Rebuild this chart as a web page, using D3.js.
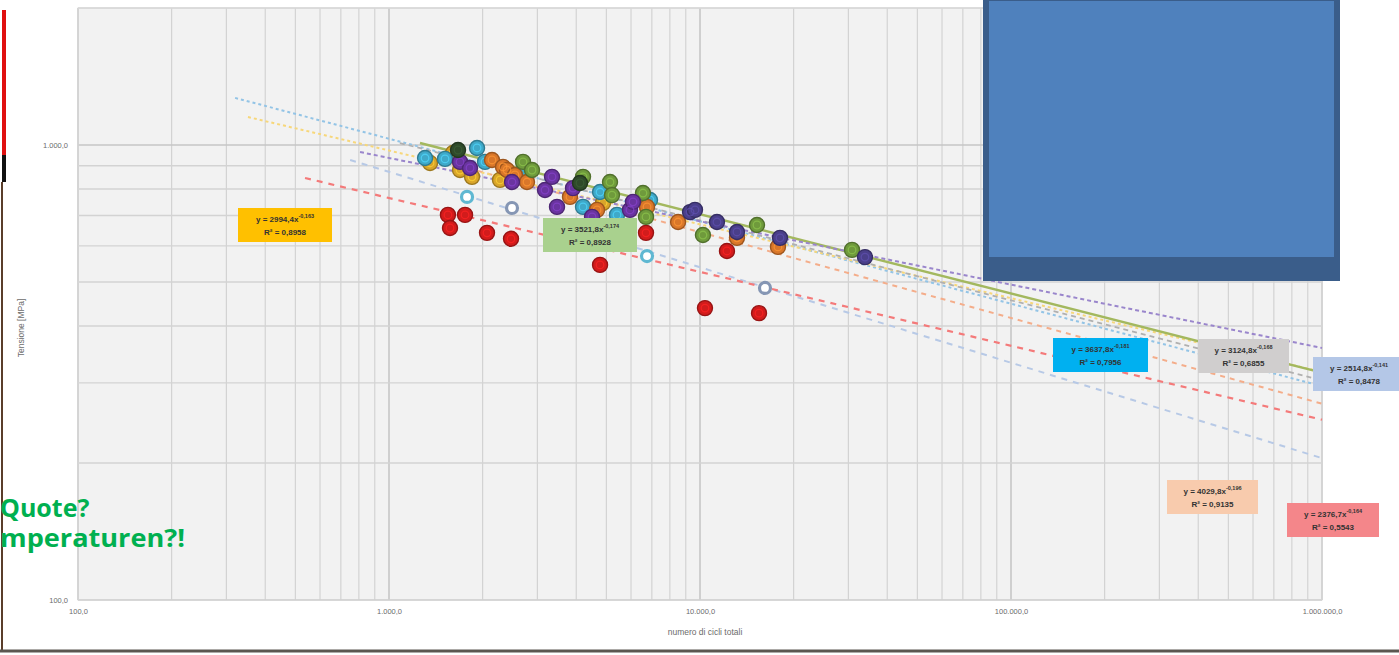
<!DOCTYPE html>
<html>
<head>
<meta charset="utf-8">
<script src="https://cdn.jsdelivr.net/npm/d3@7"></script>
<style>
  body { margin: 0; background: #fff; }
  svg { display: block; }
</style>
</head>
<body>
<svg width="1399" height="655"></svg>
<script>
// tick labels (log axes)
const xTicks = [100, 1000, 10000, 100000, 1000000];
const yTicks = [100, 1000];

// scatter series: [cycles, stress MPa]
const cyanPts = [[1306,936],[1514,932],[1919,985],[2036,918],[2677,872],[4206,731],[4771,788],[5409,702],[6906,757]];
const goldPts = [[1355,913],[1606,960],[1692,881],[1849,851],[2275,838],[4877,746]];
const darkGreenPts = [[1667,975],[4113,825]];
const purplePts = [[1692,918],[1822,890],[2486,829],[3174,796],[3343,851],[3469,731],[3905,804],[4496,695],[5955,720],[6089,750]];
const orangePts = [[2144,927],[2326,895],[2396,881],[2541,859],[2778,829],[3819,769],[4666,720],[6755,731],[8501,677],[13150,625],[17810,597]];
const greenPts = [[2697,918],[2883,881],[4206,851],[5136,829],[5212,776],[6556,784],[6705,695],[10220,634],[15250,667],[30820,588]];
const slatePts = [[9288,712],[9635,720],[11340,677],[13150,644],[18080,625],[33920,567]];
const redPts = [[1547,702],[1756,702],[1571,657],[2066,641],[2468,622],[4771,545],[6705,641],[10375,438],[12210,585],[15480,427]];
const ringCyanPts = [[1782,769],[6755,570]];
const ringGrayPts = [[2486,727],[16180,485]];

// power trendlines, start and end points
const trendCyan = [[320,1269],[1000000,295]];
const trendGold = [[352,1152],[1000000,317]];
const trendRed = [[537,846],[1000000,249]];
const trendLight = [[750,927],[1000000,205]];
const trendPeach = [[1258,951],[1000000,270]];
const trendPurple = [[807,965],[1000000,358]];
const trendOlive = [[1258,1010],[1000000,316]];
const trendGray = [[1084,1010],[1000000,304]];

// equation labels
const eqText = ['y = 2994,4x', 'y = 3521,8x', 'y = 3637,8x', 'y = 3124,8x', 'y = 2514,8x', 'y = 4029,8x', 'y = 2376,7x'];
const eqExp = ['-0,163', '-0,174', '-0,181', '-0,168', '-0,141', '-0,196', '-0,164'];
const eqR2 = ['R² = 0,8958', 'R² = 0,8928', 'R² = 0,7956', 'R² = 0,6855', 'R² = 0,8478', 'R² = 0,9135', 'R² = 0,5543'];

const svg = d3.select('svg');
const margin = { top: 8, right: 77, bottom: 55, left: 78 };
const width = +svg.attr('width');
const height = +svg.attr('height');

const x = d3.scaleLog().domain([100, 1000000]).range([margin.left, width - margin.right]);
const y = d3.scaleLog().domain([100, 2000]).range([height - margin.bottom, margin.top]);

const it = d3.formatLocale({ decimal: ',', thousands: '.', grouping: [3], currency: ['€', ''] });
const fmt = it.format(',.1f');

// plot background
svg.append('rect')
  .attr('x', x(100)).attr('y', y(2000))
  .attr('width', x(1000000) - x(100)).attr('height', y(100) - y(2000))
  .attr('fill', '#f2f2f2');

// gridlines
const isMajor = v => Math.abs(Math.log10(v) - Math.round(Math.log10(v))) < 1e-6;
svg.append('g').selectAll('line').data(x.ticks())
  .enter().append('line')
  .attr('x1', d => x(d)).attr('x2', d => x(d))
  .attr('y1', y(2000)).attr('y2', y(100))
  .attr('stroke', d => isMajor(d) ? '#c6c6c6' : '#d3d3d3')
  .attr('stroke-width', d => isMajor(d) ? 1.6 : 1.2);
svg.append('g').selectAll('line').data(y.ticks())
  .enter().append('line')
  .attr('x1', x(100)).attr('x2', x(1000000))
  .attr('y1', d => y(d)).attr('y2', d => y(d))
  .attr('stroke', d => isMajor(d) ? '#c6c6c6' : '#d3d3d3')
  .attr('stroke-width', d => isMajor(d) ? 1.6 : 1.4);
svg.append('rect')
  .attr('x', x(100)).attr('y', y(2000))
  .attr('width', x(1000000) - x(100)).attr('height', y(100) - y(2000))
  .attr('fill', 'none').attr('stroke', '#d9d9d9');

// axes
const xAxis = d3.axisBottom(x).tickValues(xTicks).tickFormat(fmt).tickSize(0).tickPadding(9);
const yAxis = d3.axisLeft(y).tickValues(yTicks).tickFormat(fmt).tickSize(0).tickPadding(10);
const gx = svg.append('g').attr('transform', `translate(0,${y(100)})`).call(xAxis);
const gy = svg.append('g').attr('transform', `translate(${x(100)},0)`).call(yAxis);
[gx, gy].forEach(g => {
  g.select('.domain').remove();
  g.selectAll('text').attr('fill', '#6b6b6b').style('font', '7.5px "Liberation Sans", sans-serif');
});

svg.append('text')
  .attr('x', 705).attr('y', 635).attr('text-anchor', 'middle')
  .attr('fill', '#6b6b6b').style('font', '8.5px "Liberation Sans", sans-serif')
  .text('numero di cicli totali');
svg.append('text')
  .attr('transform', 'translate(24,328) rotate(-90)').attr('text-anchor', 'middle')
  .attr('fill', '#6b6b6b').style('font', '8.5px "Liberation Sans", sans-serif')
  .text('Tensione [MPa]');

// trendlines
const trends = [
  { pts: trendLight, color: '#b7c9e6', dash: '6,6', w: 2 },
  { pts: trendRed, color: '#f47a7a', dash: '6,6', w: 2.2 },
  { pts: trendPeach, color: '#f4ad8a', dash: '5,5', w: 2 },
  { pts: trendCyan, color: '#93c4e6', dash: '3,3', w: 2 },
  { pts: trendGold, color: '#f7d77a', dash: '3,3', w: 2 },
  { pts: trendGray, color: '#b0b0b0', dash: '5,4', w: 1.8 },
  { pts: trendOlive, color: '#a3b85e', dash: null, w: 2.4 },
  { pts: trendPurple, color: '#9a86cc', dash: '4,3', w: 2 }
];
const line = d3.line().x(d => x(d[0])).y(d => y(d[1]));
svg.append('g').selectAll('path').data(trends)
  .enter().append('path')
  .attr('d', d => line(d.pts))
  .attr('fill', 'none')
  .attr('stroke', d => d.color)
  .attr('stroke-width', d => d.w)
  .attr('stroke-dasharray', d => d.dash);

// markers
const series = [
  { pts: redPts, color: '#d21c1c' },
  { pts: goldPts, color: '#d9a52a' },
  { pts: cyanPts, color: '#3fa9c9' },
  { pts: orangePts, color: '#d9772a' },
  { pts: greenPts, color: '#6f9a3c' },
  { pts: purplePts, color: '#6a34a0' },
  { pts: darkGreenPts, color: '#2f4a2a' },
  { pts: slatePts, color: '#4a3f8a' }
];
series.forEach(s => {
  const g = svg.append('g');
  const c = d3.color(s.color);
  g.selectAll('circle.o').data(s.pts).enter().append('circle')
    .attr('cx', d => x(d[0])).attr('cy', d => y(d[1])).attr('r', 7.5)
    .attr('fill', s.color).attr('stroke', c.darker(0.9)).attr('stroke-width', 1.4);
  g.selectAll('circle.i').data(s.pts).enter().append('circle')
    .attr('cx', d => x(d[0])).attr('cy', d => y(d[1])).attr('r', 3.8)
    .attr('fill', 'none').attr('stroke', c.brighter(0.7)).attr('stroke-width', 1.3).attr('opacity', 0.7);
});
[{ pts: ringCyanPts, color: '#5fb8d2' }, { pts: ringGrayPts, color: '#8596b4' }].forEach(s => {
  svg.append('g').selectAll('circle').data(s.pts).enter().append('circle')
    .attr('cx', d => x(d[0])).attr('cy', d => y(d[1])).attr('r', 5.5)
    .attr('fill', '#ffffff').attr('stroke', s.color).attr('stroke-width', 3.2);
});

// equation boxes
const boxes = [
  { x: 238, y: 208, w: 94, fill: '#ffc000' },
  { x: 543, y: 218, w: 94, fill: '#a9d18e' },
  { x: 1053, y: 338, w: 95, fill: '#00b0f0' },
  { x: 1198, y: 339, w: 91, fill: '#d0cece' },
  { x: 1313, y: 357, w: 92, fill: '#b4c7e7' },
  { x: 1167, y: 480, w: 91, fill: '#f8cbad' },
  { x: 1287, y: 503, w: 92, fill: '#f4868a' }
];
const bg = svg.append('g').selectAll('g').data(boxes).enter().append('g')
  .attr('transform', d => `translate(${d.x},${d.y})`);
bg.append('rect').attr('width', d => d.w).attr('height', 34).attr('fill', d => d.fill);
const t1 = bg.append('text').attr('x', d => d.w / 2).attr('y', 14).attr('text-anchor', 'middle')
  .attr('fill', '#333').style('font', 'bold 8px "Liberation Sans", sans-serif');
t1.append('tspan').text((d, i) => eqText[i]);
t1.append('tspan').attr('dy', -4).style('font-size', '5.5px').text((d, i) => eqExp[i]);
bg.append('text').attr('x', d => d.w / 2).attr('y', 27).attr('text-anchor', 'middle')
  .attr('fill', '#333').style('font', 'bold 8px "Liberation Sans", sans-serif')
  .text((d, i) => eqR2[i]);

// overlay box
svg.append('rect').attr('x', 983).attr('y', 0).attr('width', 357).attr('height', 281).attr('fill', '#3a5d8a');
svg.append('rect').attr('x', 989).attr('y', 1).attr('width', 345).attr('height', 256).attr('fill', '#4f81bd');

// screen edges
svg.append('line').attr('x1', 4).attr('x2', 4).attr('y1', 10).attr('y2', 155).attr('stroke', '#e01010').attr('stroke-width', 4);
svg.append('line').attr('x1', 4).attr('x2', 4).attr('y1', 155).attr('y2', 182).attr('stroke', '#111').attr('stroke-width', 4);
svg.append('line').attr('x1', 2).attr('x2', 2).attr('y1', 182).attr('y2', 652).attr('stroke', '#5a3d2a').attr('stroke-width', 2);
svg.append('line').attr('x1', 0).attr('x2', 1399).attr('y1', 651).attr('y2', 651).attr('stroke', '#5b5650').attr('stroke-width', 3);

// annotation
svg.append('text').attr('x', 0).attr('y', 517).attr('fill', '#00b050')
  .style('font', 'bold 25px "Open Sans", sans-serif').text('Quote?');
svg.append('text').attr('x', 0).attr('y', 547).attr('fill', '#00b050')
  .style('font', 'bold 25px "Open Sans", sans-serif')
  .attr('textLength', 185).attr('lengthAdjust', 'spacingAndGlyphs').text('mperaturen?!');
</script>
</body>
</html>
